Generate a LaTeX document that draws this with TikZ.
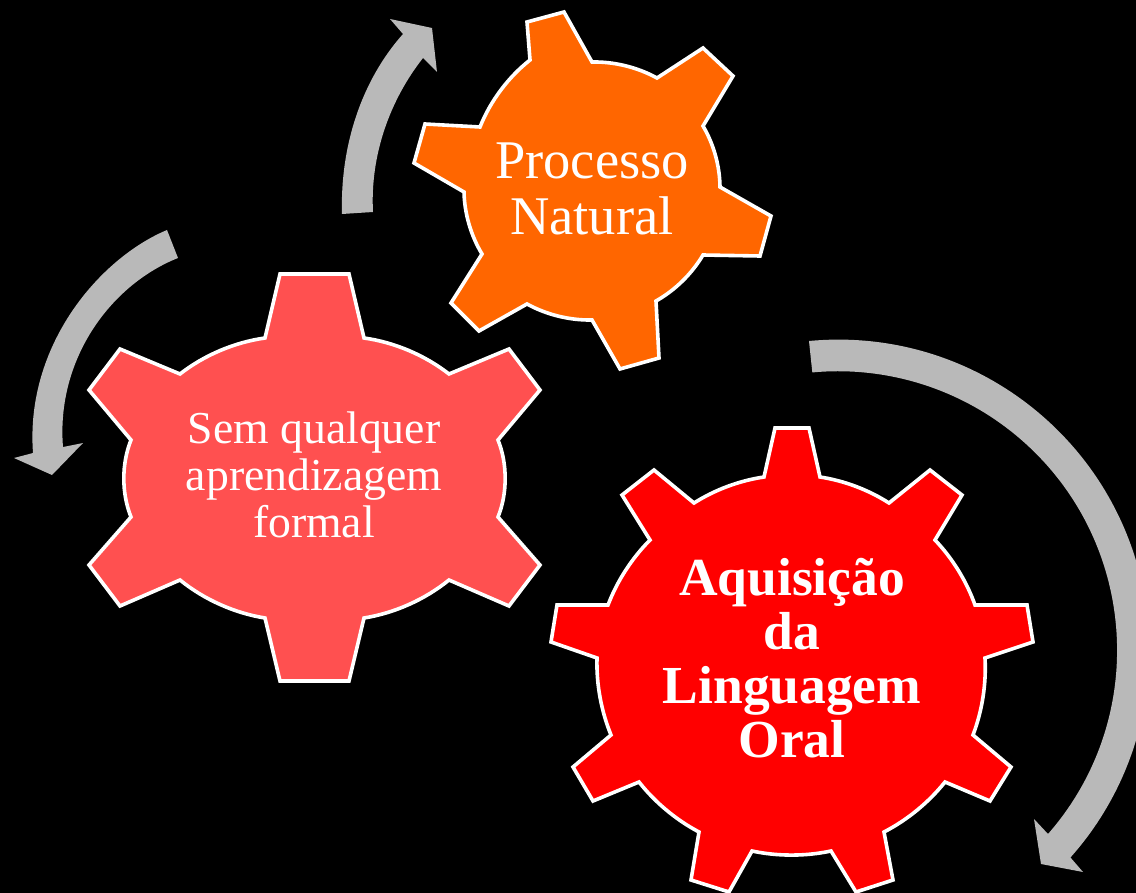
\documentclass[tikz,border=0pt]{standalone}
\usepackage{fontspec}
\setmainfont{Liberation Serif}
\definecolor{gearorange}{HTML}{FF6600}
\definecolor{gearpink}{HTML}{FF5050}
\definecolor{gearred}{HTML}{FF0000}
\definecolor{arrowgray}{HTML}{B9B9B9}
\tikzset{
  gear/.style={draw=white,line width=3.6pt,line join=miter,miter limit=4,looseness=0.85},
  cycle arrow/.style={fill=arrowgray},
  label/.style={text=white,align=center,inner sep=0pt},
}
\begin{document}
\begin{tikzpicture}[x=1pt,y=-1pt]
\useasboundingbox (0,0) rectangle (1136,893);
\clip (0,0) rectangle (1136,893);
\fill[black] (0,0) rectangle (1136,893);
% cycle arrows
\fill[cycle arrow] (342,214) .. controls (340,145) and (362,80) .. (403,34)
  -- (390,19) -- (432,28) -- (437,72) -- (423,58)
  .. controls (390,100) and (370,155) .. (373,212) -- cycle;
\fill[cycle arrow] (167,230) .. controls (100,258) and (25,345) .. (33,453)
  -- (14,458) -- (52,475) -- (83,443) -- (63,447)
  .. controls (56,360) and (110,285) .. (178,258) -- cycle;
\fill[cycle arrow] (809,341) arc[start angle=95.4,end angle=-41.7,radius=311pt]
  -- (1083,872) -- (1041,864) -- (1034,819) -- (1048,834)
  arc[start angle=-41.2,end angle=95.3,radius=279pt] -- cycle;
% orange gear
\draw[gear,fill=gearorange] (530,60) -- (527,22) -- (564,12) -- (592,62)
  to[bend left=15] (657,78) -- (703,48) -- (733,76) -- (703,126)
  to[bend left=15] (720,187) -- (771,216) -- (760,256) -- (703,255)
  to[bend left=15] (656,301) -- (659,358) -- (620,369) -- (592,320)
  to[bend left=15] (527,304) -- (479,331) -- (451,303) -- (482,254)
  to[bend left=15] (464,192) -- (414,163) -- (425,124) -- (480,127)
  to[bend left=15] cycle;
% pink gear
\draw[gear,fill=gearpink] (265,338) -- (280,274) -- (349,274) -- (364,338)
  to[bend left=15] (449,374) -- (509,349) -- (540,390) -- (498,440)
  to[bend left=22] (498,517) -- (540,565) -- (509,606) -- (449,580)
  to[bend left=15] (364,618) -- (349,681) -- (280,681) -- (265,618)
  to[bend left=15] (180,580) -- (120,606) -- (89,565) -- (131,517)
  to[bend left=22] (131,440) -- (89,390) -- (120,349) -- (180,374)
  to[bend left=15] cycle;
% red gear
\draw[gear,fill=gearred] (764,477) -- (775,428) -- (809,428) -- (820,477)
  to[bend left=12] (889,503) -- (930,470) -- (962,495) -- (935,540)
  to[bend left=12] (975,605) -- (1027,605) -- (1033,642) -- (985,658)
  to[bend left=12] (973,735) -- (1011,767) -- (990,801) -- (945,782)
  to[bend left=12] (884,832) -- (893,880) -- (856,892) -- (831,851)
  to[bend left=12] (752,851) -- (729,892) -- (691,880) -- (699,832)
  to[bend left=12] (639,782) -- (593,801) -- (573,767) -- (611,735)
  to[bend left=12] (597,658) -- (551,642) -- (557,605) -- (608,605)
  to[bend left=12] (650,540) -- (622,495) -- (654,470) -- (694,503)
  to[bend left=12] cycle;
% labels
\node[label,font=\fontsize{54.5}{56.5}\selectfont] (natural) at (592,189) {Processo\\Natural};
\node[label,font=\fontsize{45.7}{47}\selectfont] (formal) at (314,475) {Sem qualquer\\aprendizagem\\formal};
\node[label,font=\fontsize{53.5}{54}\bfseries\selectfont] (oral) at (792,658) {Aquisição\\da\\Linguagem\\Oral};
\end{tikzpicture}
\end{document}
